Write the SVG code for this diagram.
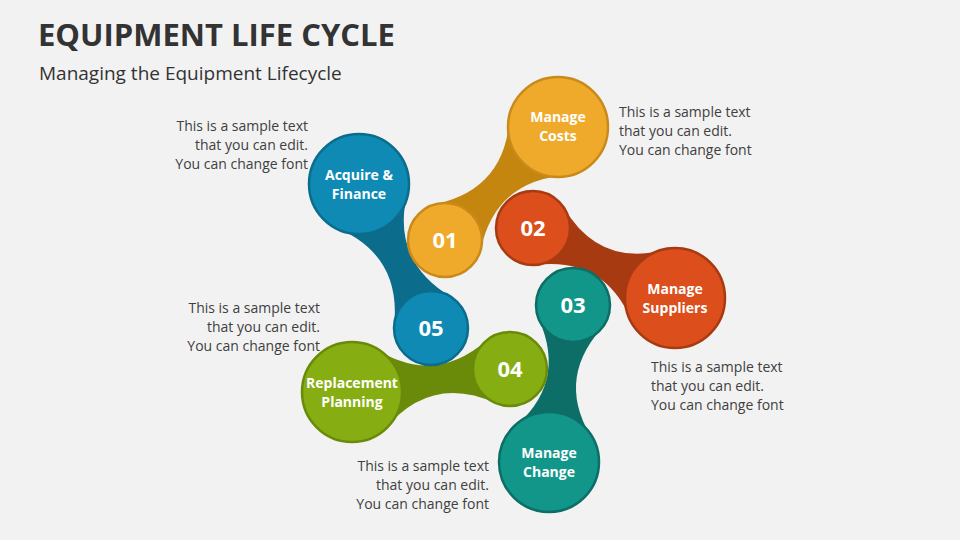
<svg xmlns="http://www.w3.org/2000/svg" width="960" height="540" viewBox="0 0 960 540">
<style>
.t{font-family:"Open Sans","Liberation Sans",sans-serif}
.d{font-family:"Open Sans","Liberation Sans",sans-serif;font-size:14px;fill:#404040}
.n{font-family:"Open Sans","Liberation Sans",sans-serif;font-size:22px;font-weight:bold;fill:#fff;text-anchor:middle}
.l{font-family:"Open Sans","Liberation Sans",sans-serif;font-size:14px;font-weight:bold;fill:#fff;text-anchor:middle}
circle{stroke-width:2.5}
</style>
<rect width="960" height="540" fill="#f2f2f2"/>
<text class="t" x="38" y="46" font-size="31" font-weight="bold" fill="#333">EQUIPMENT LIFE CYCLE</text>
<text class="t" x="39" y="80" font-size="19" fill="#333">Managing the Equipment Lifecycle</text>
<g id="connectors">
<path d="M480.7,249.6 Q496.1,178.1 570.9,175.3 L509.7,114.1 Q506.9,188.9 435.4,204.3 Z" fill="#c4860f"/>
<path d="M535.4,264.9 Q607.4,256.1 633.4,325.8 L671.7,248.1 Q600.6,269.9 563.8,207.4 Z" fill="#a83a12"/>
<path d="M538.5,318.4 Q568.6,384.7 510,430.7 L595.6,443.8 Q553.4,382.3 601.9,328.1 Z" fill="#0c6e66"/>
<path d="M487.1,340 Q432.1,388.1 370.5,345.6 L383,431.2 Q429.9,372.9 496.3,403.3 Z" fill="#6a8a0a"/>
<path d="M451.4,297.1 Q388.1,259.4 408.9,187 L331.5,225.7 Q401.9,252.6 394.1,325.8 Z" fill="#0b6c8c"/>
</g>
<g id="n1"><circle cx="445" cy="240" r="37" fill="#efaa2b" stroke="#c98a1a"/><text class="n" x="445" y="248">01</text></g>
<g id="n1b"><circle cx="558" cy="127" r="50" fill="#efaa2b" stroke="#c98a1a"/><text class="l" x="558" y="122">Manage</text><text class="l" x="558" y="141">Costs</text></g>
<g id="n2"><circle cx="533" cy="228" r="37" fill="#dc4e1c" stroke="#a83a12"/><text class="n" x="533" y="236">02</text></g>
<g id="n2b"><circle cx="675" cy="298" r="50" fill="#dc4e1c" stroke="#a83a12"/><text class="l" x="675" y="294">Manage</text><text class="l" x="675" y="313">Suppliers</text></g>
<g id="n3"><circle cx="573" cy="305" r="37" fill="#13968a" stroke="#0c6e66"/><text class="n" x="573" y="313">03</text></g>
<g id="n3b"><circle cx="549" cy="462" r="50" fill="#13968a" stroke="#0c6e66"/><text class="l" x="549" y="458">Manage</text><text class="l" x="549" y="477">Change</text></g>
<g id="n4"><circle cx="510" cy="369" r="37" fill="#86ae12" stroke="#6a8a0a"/><text class="n" x="510" y="377">04</text></g>
<g id="n4b"><circle cx="352" cy="392" r="50" fill="#86ae12" stroke="#6a8a0a"/><text class="l" x="352" y="388">Replacement</text><text class="l" x="352" y="407">Planning</text></g>
<g id="n5"><circle cx="431" cy="328" r="37" fill="#0e8ab5" stroke="#0b6c8c"/><text class="n" x="431" y="336">05</text></g>
<g id="n5b"><circle cx="359" cy="184" r="50" fill="#0e8ab5" stroke="#0b6c8c"/><text class="l" x="359" y="180">Acquire &amp;</text><text class="l" x="359" y="199">Finance</text></g>
<g id="texts">
<text class="d" text-anchor="end" x="308"><tspan x="308" y="131">This is a sample text</tspan><tspan x="308" y="150">that you can edit.</tspan><tspan x="308" y="169">You can change font</tspan></text>
<text class="d" x="619"><tspan x="619" y="117">This is a sample text</tspan><tspan x="619" y="136">that you can edit.</tspan><tspan x="619" y="155">You can change font</tspan></text>
<text class="d" text-anchor="end" x="320"><tspan x="320" y="313">This is a sample text</tspan><tspan x="320" y="332">that you can edit.</tspan><tspan x="320" y="351">You can change font</tspan></text>
<text class="d" x="651"><tspan x="651" y="372">This is a sample text</tspan><tspan x="651" y="391">that you can edit.</tspan><tspan x="651" y="410">You can change font</tspan></text>
<text class="d" text-anchor="end" x="489"><tspan x="489" y="471">This is a sample text</tspan><tspan x="489" y="490">that you can edit.</tspan><tspan x="489" y="509">You can change font</tspan></text>
</g>
</svg>
